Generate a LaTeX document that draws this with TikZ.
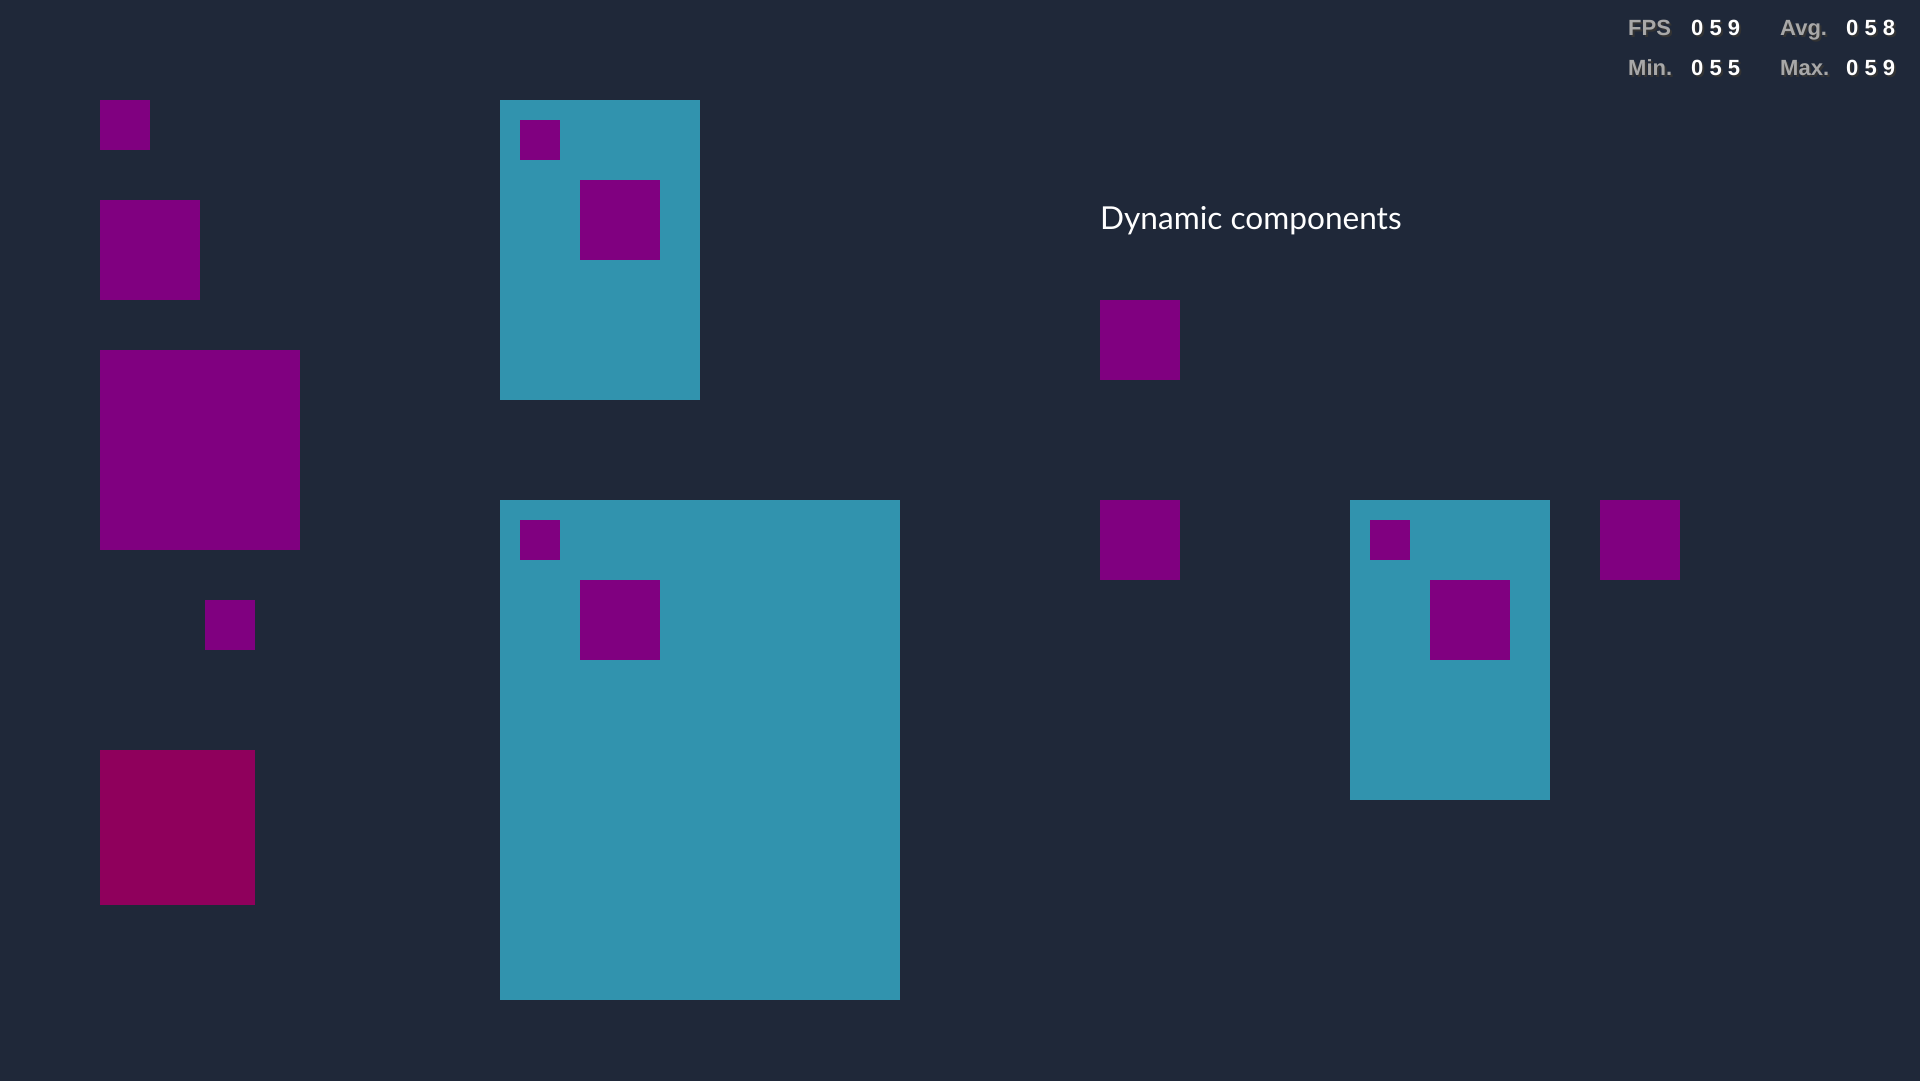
\documentclass[tikz,border=0pt]{standalone}
\usepackage{fontspec}
\setmainfont{Liberation Sans}
\newfontfamily\latofont{Lato}
\definecolor{bg}{HTML}{1F2839}
\definecolor{comp}{HTML}{800080}
\definecolor{box}{HTML}{3193AE}
\definecolor{alt}{HTML}{8F005C}
\definecolor{statlabel}{HTML}{A8A8A8}
\tikzset{
  stat/.style={anchor=base west, inner sep=0pt, font=\bfseries\fontsize{22}{22}\selectfont},
  statshadow/.style={stat, text=black!80},
}
\begin{document}
\begin{tikzpicture}[x=1pt,y=-1pt]

\useasboundingbox (0,0) rectangle (1920,1080);
\fill[bg] (-2,-2) rectangle (1922,1082);

\fill[comp] (100,100) rectangle (150,150);
\fill[comp] (100,200) rectangle (200,300);
\fill[comp] (100,350) rectangle (300,550);
\fill[comp] (205,600) rectangle (255,650);
\fill[alt] (100,750) rectangle (255,905);

\fill[box] (500,100) rectangle (700,400);
\fill[comp] (520,120) rectangle (560,160);
\fill[comp] (580,180) rectangle (660,260);

\fill[box] (500,500) rectangle (900,1000);
\fill[comp] (520,520) rectangle (560,560);
\fill[comp] (580,580) rectangle (660,660);

\node(title)[anchor=base west, inner sep=0pt, text=white, font=\latofont\fontsize{31.6}{31.6}\selectfont] at (1100,229) {Dynamic components};

\fill[comp] (1100,300) rectangle (1180,380);
\fill[comp] (1100,500) rectangle (1180,580);

\fill[box] (1350,500) rectangle (1550,800);
\fill[comp] (1370,520) rectangle (1410,560);
\fill[comp] (1430,580) rectangle (1510,660);

\fill[comp] (1600,500) rectangle (1680,580);

\node(fpsshadow)[statshadow] at (1630,37) {FPS};
\node(fps)[stat, text=statlabel] at (1628,35) {FPS};
\node(fpsvalshadow)[statshadow] at (1693,37) {0 5 9};
\node(fpsval)[stat, text=white] at (1691,35) {0 5 9};
\node(avgshadow)[statshadow] at (1782,37) {Avg.};
\node(avg)[stat, text=statlabel] at (1780,35) {Avg.};
\node(avgvalshadow)[statshadow] at (1848,37) {0 5 8};
\node(avgval)[stat, text=white] at (1846,35) {0 5 8};

\node(minshadow)[statshadow] at (1630,77) {Min.};
\node(min)[stat, text=statlabel] at (1628,75) {Min.};
\node(minvalshadow)[statshadow] at (1693,77) {0 5 5};
\node(minval)[stat, text=white] at (1691,75) {0 5 5};
\node(maxshadow)[statshadow] at (1782,77) {Max.};
\node(max)[stat, text=statlabel] at (1780,75) {Max.};
\node(maxvalshadow)[statshadow] at (1848,77) {0 5 9};
\node(maxval)[stat, text=white] at (1846,75) {0 5 9};

\end{tikzpicture}
\end{document}
